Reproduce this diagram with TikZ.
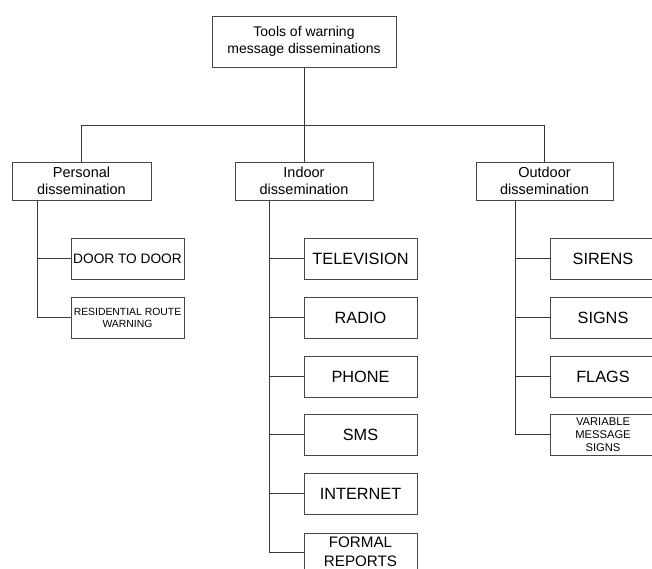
\documentclass[tikz,border=0pt]{standalone}
\usepackage{fontspec}
\setmainfont{Liberation Sans}
\begin{document}
\begin{tikzpicture}[x=1pt,y=-1pt,
  wire/.style={draw=black!78,line width=0.9pt},
  box/.style={draw=black!72,line width=0.9pt,rectangle,align=center,inner sep=0pt,fill=white},
  head/.style={box,font=\fontsize{14.5}{17.5}\selectfont,minimum height=38pt},
  leaf/.style={box,minimum width=113pt,minimum height=41pt,font=\fontsize{16.3}{19}\selectfont},
  oleaf/.style={leaf,minimum width=106pt},
  small/.style={font=\fontsize{10.4}{12}\selectfont},
  tiny/.style={font=\fontsize{11.2}{13}\selectfont}]
\clip (0,0) rectangle (652,569);
\fill[white] (0,0) rectangle (652,569);

% root and first level
\node[box,minimum width=184pt,minimum height=51pt,font=\fontsize{14}{17}\selectfont]
  (root) at (304,41.5) {Tools of warning\\message disseminations};
\node[head,minimum width=139pt] (per) at (81.5,181) {Personal\\dissemination};
\node[head,minimum width=138pt] (ind) at (304,181) {Indoor\\dissemination};
\node[head,minimum width=137pt] (out) at (544.5,181) {Outdoor\\dissemination};

% personal branch
\node[leaf,font=\fontsize{13.7}{16}\selectfont] (door) at (127.5,258.5) {DOOR TO DOOR};
\node[leaf,small] (res) at (127.5,317.5) {RESIDENTIAL ROUTE\\WARNING};

% indoor branch
\node[leaf] (tv) at (360.5,258.5) {TELEVISION};
\node[leaf] (radio) at (360.5,317.5) {RADIO};
\node[leaf] (phone) at (360.5,376.5) {PHONE};
\node[leaf] (sms) at (360.5,434.5) {SMS};
\node[leaf] (net) at (360.5,493.5) {INTERNET};
\node[leaf,minimum height=38pt,font=\fontsize{15.2}{19}\selectfont] (formal) at (360.5,552) {FORMAL\\REPORTS};

% outdoor branch
\node[oleaf] (sir) at (603,258.5) {SIRENS};
\node[oleaf] (sig) at (603,317.5) {SIGNS};
\node[oleaf] (flag) at (603,376.5) {FLAGS};
\node[oleaf,tiny] (vms) at (603,434.5) {VARIABLE\\MESSAGE\\SIGNS};

% top level connectors
\draw[wire] (root.south) -- ++(0,59);
\draw[wire] (per.north) -- ++(0,-36) -| (out.north);
\draw[wire] (ind.north) -- ++(0,-36);

% spines
\coordinate (ps) at (37,200);
\coordinate (is) at (269,200);
\coordinate (os) at (515,200);
\draw[wire] (ps) |- (res.west);
\draw[wire] (door.west) -- (door.west -| ps);
\draw[wire] (is) |- (formal.west);
\foreach \n in {tv,radio,phone,sms,net}
  \draw[wire] (\n.west) -- (\n.west -| is);
\draw[wire] (os) |- (vms.west);
\foreach \n in {sir,sig,flag}
  \draw[wire] (\n.west) -- (\n.west -| os);
\end{tikzpicture}
\end{document}
